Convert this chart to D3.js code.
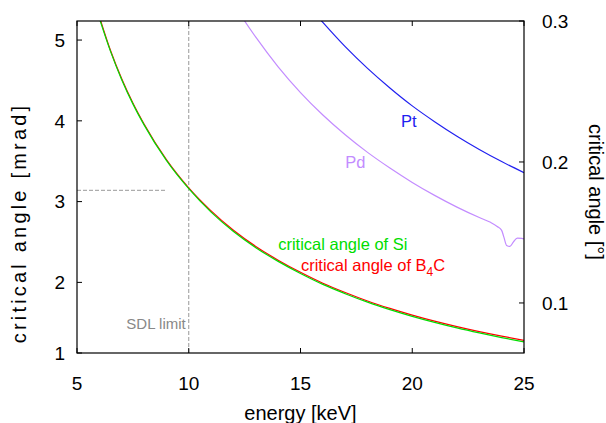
<html>
<head>
<script src="https://d3js.org/d3.v7.min.js"></script>
<style>
  body { margin: 0; background: #fff; }
  text { font-family: "Liberation Sans", Arial, Helvetica, sans-serif; }
</style>
</head>
<body>
<script>
// energies in keV, Si and B4C in mrad (left axis)
const energyLow = [6, 6.5, 7, 7.5, 8, 9, 10, 11, 12, 13, 14, 15, 16, 17, 18, 19, 20, 21, 22, 23, 24, 25];
const siMrad   = [5.27, 4.86, 4.51, 4.21, 3.95, 3.51, 3.16, 2.87, 2.63, 2.43, 2.26, 2.11, 1.975, 1.86, 1.755, 1.663, 1.58, 1.505, 1.436, 1.374, 1.317, 1.264];
const b4cMrad  = [5.29, 4.87, 4.52, 4.22, 3.96, 3.52, 3.17, 2.885, 2.645, 2.445, 2.275, 2.125, 1.99, 1.875, 1.77, 1.678, 1.595, 1.52, 1.452, 1.39, 1.334, 1.283];

// Pt and Pd in degrees (right axis)
const energyPt = [15.5, 16, 17, 18, 19, 20, 21, 22, 23, 24, 25];
const ptDeg    = [0.308, 0.299, 0.2818, 0.2664, 0.2525, 0.2398, 0.2286, 0.2183, 0.2089, 0.2003, 0.1924];
const energyPd = [12, 12.5, 13, 14, 15, 16, 17, 18, 19, 20, 21, 22, 23, 23.5, 23.8, 24.0, 24.1, 24.22, 24.37, 24.52, 24.7, 24.9, 25];
const pdDeg    = [0.3125, 0.3, 0.2885, 0.2675, 0.2492, 0.2333, 0.2193, 0.2068, 0.1957, 0.1855, 0.1763, 0.168, 0.1606, 0.1572, 0.1543, 0.1515, 0.1467, 0.1408, 0.1401, 0.1431, 0.146, 0.1458, 0.1455];

const xTicks = [5, 10, 15, 20, 25];
const yLeftTicks = [1, 2, 3, 4, 5];
const yRightTicks = [0.1, 0.2, 0.3];
const sdlEnergy = 10;
const sdlAngle = 3.14;

const w = 606, h = 423;
const m = {left: 77, right: 82, top: 21, bottom: 70};

const svg = d3.select("body").append("svg").attr("width", w).attr("height", h);

const x = d3.scaleLinear().domain([5, 25]).range([m.left, w - m.right]);
const yDeg = d3.scaleLinear().domain([0.0645, 0.3]).range([h - m.bottom, m.top]);
const yMrad = d3.scaleLinear()
    .domain(yDeg.domain().map(d => d * Math.PI / 180 * 1000))
    .range(yDeg.range()).clamp(true);

svg.append("clipPath").attr("id", "clip")
  .append("rect")
    .attr("x", m.left).attr("y", m.top)
    .attr("width", w - m.left - m.right).attr("height", h - m.top - m.bottom);

const plot = svg.append("g").attr("clip-path", "url(#clip)");

// SDL limit dashed lines
plot.append("line")
    .attr("x1", x(sdlEnergy)).attr("x2", x(sdlEnergy))
    .attr("y1", yDeg.range()[0]).attr("y2", yDeg.range()[1])
    .attr("stroke", "#999").attr("stroke-dasharray", "4,2");
plot.append("line")
    .attr("x1", x(5)).attr("x2", x(9))
    .attr("y1", yMrad(sdlAngle)).attr("y2", yMrad(sdlAngle))
    .attr("stroke", "#999").attr("stroke-dasharray", "4,2");

function drawLine(es, vs, yScale, color) {
  const line = d3.line().x(d => x(d[0])).y(d => yScale(d[1])).curve(d3.curveMonotoneX);
  plot.append("path")
      .datum(d3.zip(es, vs))
      .attr("d", line)
      .attr("fill", "none")
      .attr("stroke", color)
      .attr("stroke-width", 1.2);
}

const yMradFree = yMrad.copy().clamp(false);
drawLine(energyPd, pdDeg, yDeg, "#c38cff");
drawLine(energyPt, ptDeg, yDeg, "#2020f0");
drawLine(energyLow, b4cMrad, yMradFree, "#ff0000");
drawLine(energyLow, siMrad, yMradFree, "#00dd00");

// frame
svg.append("rect")
    .attr("x", m.left).attr("y", m.top)
    .attr("width", w - m.left - m.right).attr("height", h - m.top - m.bottom)
    .attr("fill", "none").attr("stroke", "#000").attr("stroke-width", 1.2);

const tickLen = 5;
const bottomY = h - m.bottom, topY = m.top;

// x ticks (bottom and mirrored top)
xTicks.forEach(t => {
  svg.append("line").attr("x1", x(t)).attr("x2", x(t))
     .attr("y1", bottomY).attr("y2", bottomY - tickLen).attr("stroke", "#000");
  svg.append("line").attr("x1", x(t)).attr("x2", x(t))
     .attr("y1", topY).attr("y2", topY + tickLen).attr("stroke", "#000");
  svg.append("text").attr("x", x(t)).attr("y", bottomY + 37)
     .attr("text-anchor", "middle").attr("font-size", 19).text(t);
});

// left ticks
yLeftTicks.forEach(t => {
  svg.append("line").attr("x1", m.left).attr("x2", m.left + tickLen)
     .attr("y1", yMrad(t)).attr("y2", yMrad(t)).attr("stroke", "#000");
  svg.append("text").attr("x", m.left - 12).attr("y", yMrad(t))
     .attr("dy", "0.36em").attr("text-anchor", "end").attr("font-size", 19).text(t);
});

// right ticks
yRightTicks.forEach(t => {
  svg.append("line").attr("x1", w - m.right).attr("x2", w - m.right - tickLen)
     .attr("y1", yDeg(t)).attr("y2", yDeg(t)).attr("stroke", "#000");
  svg.append("text").attr("x", w - m.right + 18).attr("y", yDeg(t))
     .attr("dy", "0.36em").attr("font-size", 19).text(t.toFixed(1));
});

// axis titles
svg.append("text").attr("x", (m.left + w - m.right) / 2).attr("y", h - 3)
   .attr("text-anchor", "middle").attr("font-size", 20).text("energy [keV]");
svg.append("text").attr("transform", "translate(26,223) rotate(-90)")
   .attr("text-anchor", "middle").attr("font-size", 20)
   .attr("letter-spacing", 3.2).text("critical angle [mrad]");
svg.append("text").attr("transform", "translate(589,192) rotate(90)")
   .attr("text-anchor", "middle").attr("font-size", 20).text("critical angle [°]");

// annotations
svg.append("text").attr("x", x(sdlEnergy) - 3).attr("y", yMrad(1.42))
   .attr("text-anchor", "end").attr("font-size", 15).attr("fill", "#888").text("SDL limit");
svg.append("text").attr("x", x(19.5)).attr("y", yDeg(0.225))
   .attr("font-size", 16.5).attr("fill", "#2020f0").text("Pt");
svg.append("text").attr("x", x(17)).attr("y", yDeg(0.196))
   .attr("font-size", 16.5).attr("fill", "#c38cff").text("Pd");
svg.append("text").attr("x", x(14.0)).attr("y", yMrad(2.40))
   .attr("font-size", 16.5).attr("fill", "#00dd00").text("critical angle of Si");
const b4c = svg.append("text").attr("x", x(15.02)).attr("y", yMrad(2.14))
   .attr("font-size", 16.5).attr("fill", "#ff0000");
b4c.append("tspan").text("critical angle of B");
b4c.append("tspan").attr("dy", 5).attr("font-size", 12).text("4");
b4c.append("tspan").attr("dy", -5).text("C");
</script>
</body>
</html>
